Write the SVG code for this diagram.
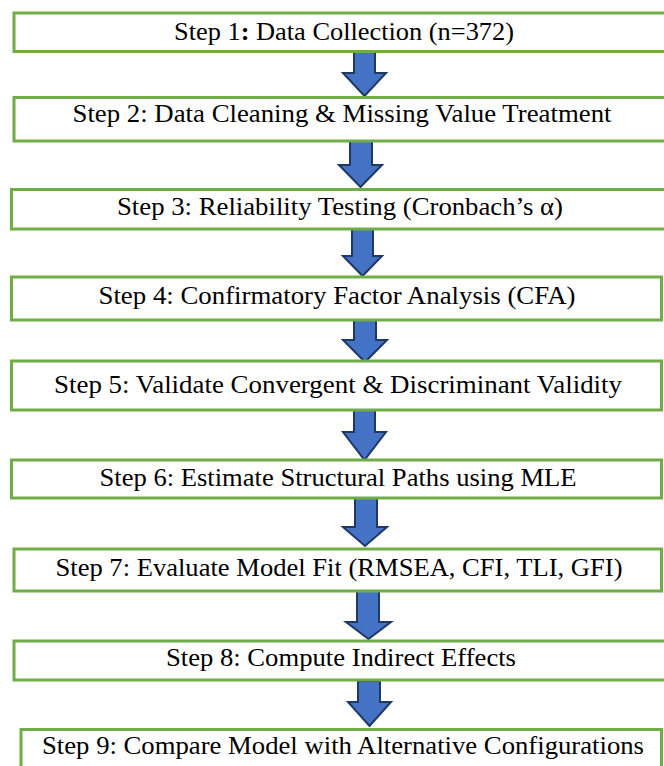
<svg xmlns="http://www.w3.org/2000/svg" width="664" height="766" viewBox="0 0 664 766">
  <style>
    .box { fill: #ffffff; stroke: #70AD47; stroke-width: 3; }
    .lbl { font-size: 25px; fill: #000000; text-anchor: middle; }
    .arr { fill: #4472C4; stroke: #1F3864; stroke-width: 2; stroke-linejoin: miter; }
  </style>
  <rect width="664" height="766" fill="#ffffff"/>
  <g id="connectors">
    <polygon class="arr" points="354,52 375,52 375,73 386,73 364.5,96 343,73 354,73"/>
    <polygon class="arr" points="350,141 372,141 372,165 382,165 360.5,187 339,165 350,165"/>
    <polygon class="arr" points="352,229 373,229 373,256 382,256 362.5,276 343,256 352,256"/>
    <polygon class="arr" points="354,320 376,320 376,340 387,340 365,362 343,340 354,340"/>
    <polygon class="arr" points="354,410 375,410 375,432 386,432 364.5,460 343,432 354,432"/>
    <polygon class="arr" points="355,498 377,498 377,527 387,527 365,546 343,527 355,527"/>
    <polygon class="arr" points="357,591 379,591 379,622 391,622 368.5,639 346,622 357,622"/>
    <polygon class="arr" points="358,681 380,681 380,702 391,702 369.5,726 348,702 358,702"/>
  </g>
  <g font-family="'Liberation Serif', 'Times New Roman', serif">
  <g id="step1">
    <rect class="box" x="14" y="13" width="670" height="38.5"/>
    <text class="lbl" x="344" y="40" textLength="340" lengthAdjust="spacingAndGlyphs">Step 1<tspan font-weight="bold">:</tspan> Data Collection (n=372)</text>
  </g>
  <g id="step2">
    <rect class="box" x="14" y="97.5" width="670" height="43.5"/>
    <text class="lbl" x="342" y="122" textLength="539" lengthAdjust="spacingAndGlyphs">Step 2: Data Cleaning &amp; Missing Value Treatment</text>
  </g>
  <g id="step3">
    <rect class="box" x="11.5" y="189.5" width="672" height="39.5"/>
    <text class="lbl" x="340" y="215" textLength="446" lengthAdjust="spacingAndGlyphs">Step 3: Reliability Testing (Cronbach’s α)</text>
  </g>
  <g id="step4">
    <rect class="box" x="11.5" y="277" width="650" height="43"/>
    <text class="lbl" x="337" y="304" textLength="477" lengthAdjust="spacingAndGlyphs">Step 4: Confirmatory Factor Analysis (CFA)</text>
  </g>
  <g id="step5">
    <rect class="box" x="11.5" y="361" width="650" height="49"/>
    <text class="lbl" x="338" y="393" textLength="568" lengthAdjust="spacingAndGlyphs">Step 5: Validate Convergent &amp; Discriminant Validity</text>
  </g>
  <g id="step6">
    <rect class="box" x="11.5" y="460" width="650" height="38"/>
    <text class="lbl" x="338" y="486" textLength="477" lengthAdjust="spacingAndGlyphs">Step 6: Estimate Structural Paths using MLE</text>
  </g>
  <g id="step7">
    <rect class="box" x="14" y="549" width="647.5" height="42"/>
    <text class="lbl" x="339" y="576" textLength="567" lengthAdjust="spacingAndGlyphs">Step 7: Evaluate Model Fit (RMSEA, CFI, TLI, GFI)</text>
  </g>
  <g id="step8">
    <rect class="box" x="14" y="641" width="670" height="39"/>
    <text class="lbl" x="341" y="666" textLength="350" lengthAdjust="spacingAndGlyphs">Step 8: Compute Indirect Effects</text>
  </g>
  <g id="step9">
    <rect class="box" x="21" y="729.5" width="640.5" height="50"/>
    <text class="lbl" x="343" y="754" textLength="602" lengthAdjust="spacingAndGlyphs">Step 9: Compare Model with Alternative Configurations</text>
  </g>
  </g>
</svg>
